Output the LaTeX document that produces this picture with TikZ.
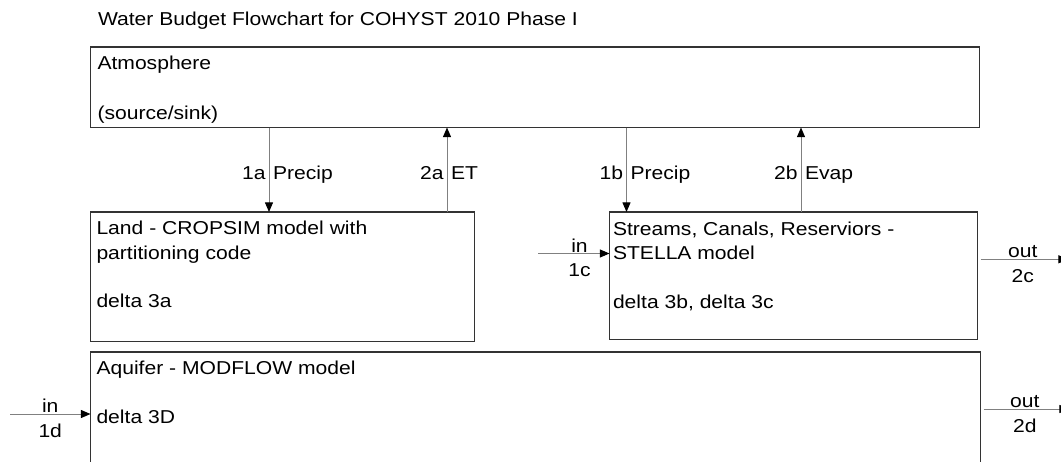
\documentclass[tikz,border=0pt]{standalone}
\usepackage{fontspec}
\setmainfont{Liberation Sans}[FakeStretch=1.13]
\usetikzlibrary{arrows.meta,positioning}

\begin{document}
\begin{tikzpicture}[x=0.75pt, y=-0.75pt,
  every node/.style={font=\fontsize{14}{18.15}\selectfont, inner sep=0pt, outer sep=0pt},
  box/.style={draw=black!80, line width=0.9pt, rectangle, anchor=north west},
  boxtext/.style={align=left, anchor=base west},
  flow/.style={draw=black!50, line width=0.75pt, -{Triangle[length=7.2pt, width=6pt, color=black]}},
  tagl/.style={anchor=base east, xshift=-2.6pt},
  tagr/.style={anchor=base west, xshift=3pt},
  tagup/.style={anchor=base, yshift=1.1pt},
  tagdn/.style={anchor=base, yshift=-17.25pt}]
\clip (0,0) rectangle (1061,461);
% Title
\node[anchor=base west] (title) at (98,25) {Water Budget Flowchart for COHYST 2010 Phase I};
% Atmosphere (text placed by its last baseline)
\node[box, minimum width=889*0.75pt, minimum height=80.5*0.75pt] (atmos) at (90.5,47) {};
\node[boxtext] (atmostxt) at ([shift={(7,72.5)}]atmos.north west) {Atmosphere\\[19.7pt](source/sink)};
% Land
\node[box, minimum width=384*0.75pt, minimum height=129.5*0.75pt] (land) at (90.5,212) {};
\node[boxtext] (landtxt) at ([shift={(6,95.5)}]land.north west) {Land - CROPSIM model with\\partitioning code\\[18.15pt]delta 3a};
% Streams
\node[box, minimum width=368*0.75pt, minimum height=127.5*0.75pt] (streams) at (609.5,212) {};
\node[boxtext] (streamstxt) at ([shift={(3.5,96)}]streams.north west) {Streams, Canals, Reserviors -\\STELLA model\\[18.15pt]delta 3b, delta 3c};
% Aquifer
\node[box, minimum width=890*0.75pt, minimum height=170*0.75pt] (aquifer) at (90.5,352) {};
\node[boxtext] (aquifertxt) at ([shift={(6,71)}]aquifer.north west) {Aquifer - MODFLOW model\\[18.15pt]delta 3D};
% Vertical flows
\coordinate (x1a) at (269,0);
\coordinate (x2a) at (447,0);
\coordinate (x1b) at (626.5,0);
\coordinate (x2b) at (801,0);
\draw[flow] (atmos.south -| x1a) -- node[pos=0.61, tagl] (l1a) {1a} node[pos=0.61, tagr] (t1a) {Precip} (land.north -| x1a);
\draw[flow] (land.north -| x2a) -- node[pos=0.39, tagl] (l2a) {2a} node[pos=0.39, tagr] (t2a) {ET} (atmos.south -| x2a);
\draw[flow] (atmos.south -| x1b) -- node[pos=0.61, tagl] (l1b) {1b} node[pos=0.61, tagr] (t1b) {Precip} (streams.north -| x1b);
\draw[flow] (streams.north -| x2b) -- node[pos=0.39, tagl] (l2b) {2b} node[pos=0.39, tagr] (t2b) {Evap} (atmos.south -| x2b);
% Horizontal flows
\coordinate (in1c) at (538,253.5);
\coordinate (out2c) at (1068,259.3);
\coordinate (in1d) at (10,414);
\coordinate (out2d) at (1069,409);
\draw[flow] (in1c) -- node[pos=0.58, tagup] (lin1c) {in} node[pos=0.58, tagdn] (l1c) {1c} (in1c -| streams.west);
\draw[flow, shorten <=2.4pt] (streams.east |- out2c) -- node[midway, tagup] (lout2c) {out} node[midway, tagdn] (l2c) {2c} (out2c);
\draw[flow] (in1d) -- node[midway, tagup] (lin1d) {in} node[midway, tagdn] (l1d) {1d} (in1d -| aquifer.west);
\draw[flow, shorten <=2.4pt] (aquifer.east |- out2d) -- node[midway, tagup] (lout2d) {out} node[midway, tagdn] (l2d) {2d} (out2d);
\end{tikzpicture}
\end{document}
